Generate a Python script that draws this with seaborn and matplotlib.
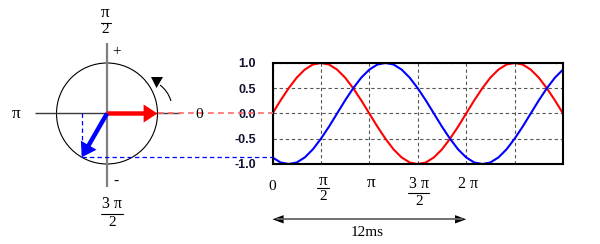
import matplotlib
matplotlib.use("Agg")
import matplotlib.pyplot as plt
from matplotlib.patches import Circle, FancyArrowPatch, Polygon, PathPatch, ArrowStyle
from matplotlib.path import Path
import numpy as np
import pandas as pd
import seaborn as sns

# ---------------- data ----------------
angle_deg = [0, 15, 30, 45, 60, 75, 90, 105, 120, 135, 150, 165, 180,
             195, 210, 225, 240, 255, 270, 285, 300, 315, 330, 345, 360,
             375, 390, 405, 420, 435, 450, 465, 480, 495, 510, 525, 540]
red_vals = [0.0, 0.26, 0.5, 0.71, 0.87, 0.97, 1.0, 0.97, 0.87, 0.71, 0.5, 0.26, 0.0,
            -0.26, -0.5, -0.71, -0.87, -0.97, -1.0, -0.97, -0.87, -0.71, -0.5, -0.26, 0.0,
            0.26, 0.5, 0.71, 0.87, 0.97, 1.0, 0.97, 0.87, 0.71, 0.5, 0.26, 0.0]
blue_vals = [-0.87, -0.97, -1.0, -0.97, -0.87, -0.71, -0.5, -0.26, 0.0, 0.26, 0.5, 0.71, 0.87,
             0.97, 1.0, 0.97, 0.87, 0.71, 0.5, 0.26, 0.0, -0.26, -0.5, -0.71, -0.87,
             -0.97, -1.0, -0.97, -0.87, -0.71, -0.5, -0.26, 0.0, 0.26, 0.5, 0.71, 0.87]
xtick_deg = [0, 90, 180, 270, 360, 450, 540]
ytick_vals = [-1.0, -0.5, 0.0, 0.5, 1.0]
ytick_labels = ["-1.0", "-0.5", "0.0", "0.5", "1.0"]
phasor_deg = [0, -120]          # red, blue phasor angles
phasor_colors = ["#ff0000", "#0000ff"]
span_label = "12ms"
span_deg = [0, 360]

df = pd.DataFrame({"angle": angle_deg, "red": red_vals, "blue": blue_vals})

sns.set_style("white")
plt.rcParams["font.family"] = ["Liberation Serif", "DejaVu Serif"]

fig = plt.figure(figsize=(6.0, 2.44), dpi=100)
ax = fig.add_axes([272.5 / 600, 1 - 164 / 244, 290.5 / 600, 101 / 244])

sns.lineplot(data=df, x="angle", y="red", color="#ff0000", lw=1.5, ax=ax)
sns.lineplot(data=df, x="angle", y="blue", color="#0000ff", lw=1.5, ax=ax)

ax.set_xlim(0, 540)
ax.set_ylim(-1, 1)
ax.set_xlabel("")
ax.set_ylabel("")
ax.set_xticks(xtick_deg)
ax.set_xticklabels([])
ax.set_yticks(ytick_vals)
ax.set_yticklabels(ytick_labels, fontweight="bold", fontsize=9,
                   family="Liberation Sans", color="#141432")
ax.tick_params(axis="x", direction="out", length=4.5, width=1.5, color="black")
ax.tick_params(axis="y", length=0, pad=12)
ax.grid(True, color="#555555", linestyle=(0, (3, 2.5)), linewidth=0.8)
ax.set_axisbelow(True)
for s in ax.spines.values():
    s.set_visible(True)
    s.set_color("black")
    s.set_linewidth(1.5)

# ---------------- overlay in pixel coordinates ----------------
ov = fig.add_axes([0, 0, 1, 1])
ov.set_xlim(0, 600)
ov.set_ylim(244, 0)
ov.axis("off")


def to_ov(x, y):
    d = ax.transData.transform((x, y))
    return ov.transData.inverted().transform(d)


x_left, y_zero = to_ov(0, 0)
_, y_one = to_ov(0, 1)
R = y_zero - y_one
cx, cy = 107.0, y_zero

# phasor axes
ov.plot([cx, cx], [43, 187], color="#7f7f7f", lw=1.6, solid_capstyle="butt")
ov.plot([35, 180], [cy, cy], color="#3a3a3a", lw=1.0, solid_capstyle="butt")
ov.add_patch(Circle((cx, cy), R, fill=False, ec="black", lw=0.8))

# projection lines
red_tip = (cx + R * np.cos(np.radians(phasor_deg[0])), cy - R * np.sin(np.radians(phasor_deg[0])))
blue_tip = (cx + R * np.cos(np.radians(phasor_deg[1])), cy - R * np.sin(np.radians(phasor_deg[1])))
_, y_blue0 = to_ov(angle_deg[0], blue_vals[0])
_, y_red0 = to_ov(angle_deg[0], red_vals[0])
ov.plot([red_tip[0], x_left], [y_red0, y_red0], color="#ff6a6a", lw=1.2,
        linestyle=(0, (3.5, 2.5)))
ov.plot([blue_tip[0], blue_tip[0]], [cy, blue_tip[1]], color="#0000ff", lw=0.9,
        linestyle=(0, (3.5, 2.5)))
ov.plot([blue_tip[0], x_left], [y_blue0, y_blue0], color="#0000ff", lw=0.9,
        linestyle=(0, (3.5, 2.5)))

# phasor arrows
for tip, col in zip([red_tip, blue_tip], phasor_colors):
    st = ArrowStyle.Simple(head_length=10, head_width=13, tail_width=3.2)
    ov.add_patch(FancyArrowPatch((cx, cy), tip, arrowstyle=st, mutation_scale=1,
                                 color=col, lw=0, shrinkA=0, shrinkB=0, zorder=5))

# rotation direction
arc = Path([(171, 101), (168, 91), (160, 85)], [Path.MOVETO, Path.CURVE3, Path.CURVE3])
ov.add_patch(PathPatch(arc, fill=False, ec="black", lw=0.8))
ov.add_patch(Polygon([(151, 77), (163, 77), (156.5, 88)], closed=True, fc="black", ec="none"))

serif = dict(family="Liberation Serif", ha="center", va="center", color="black")
FS = 11
PS = 12.5


def frac(x, y_num, y_bar, y_den, num, den, half, nfs):
    ov.text(x, y_num, num, fontsize=nfs, **serif)
    ov.plot([x - half, x + half], [y_bar, y_bar], color="black", lw=0.8)
    ov.text(x, y_den, den, fontsize=FS, **serif)


ov.text(16, 114, "π", fontsize=PS, **serif)
ov.text(199, 115, "0", fontsize=FS, **serif)
ov.text(117, 51.5, "+", fontsize=11, **serif)
ov.text(116, 181, "-", fontsize=11, **serif)
frac(105.5, 13, 23.3, 29.5, "π", "2", 5, PS)
frac(112, 204.5, 213.5, 223, "3 π", "2", 11, FS + 0.5)

# plot x-tick labels
px = [to_ov(d, 0)[0] for d in xtick_deg]
ov.text(px[0], 186, "0", fontsize=FS, **serif)
frac(px[1] + 2, 181, 187.5, 197, "π", "2", 6, PS)
ov.text(px[2] + 2, 183, "π", fontsize=PS, **serif)
frac(px[3] + 1, 183.5, 193, 201.5, "3 π", "2", 10.5, FS + 0.5)
ov.text(px[4] + 2, 183.5, "2 π", fontsize=FS + 0.5, **serif)

# span arrow
xa = to_ov(span_deg[0], 0)[0]
xb = to_ov(span_deg[1], 0)[0]
ya = 219.3
ov.plot([xa + 4, xb - 4], [ya, ya], color="#666666", lw=1.3)
hs = ArrowStyle.Simple(head_length=8, head_width=6, tail_width=0.1)
ov.add_patch(FancyArrowPatch((xa + 10, ya), (xa, ya), arrowstyle=hs, mutation_scale=1,
                             color="black", lw=0, shrinkA=0, shrinkB=0))
ov.add_patch(FancyArrowPatch((xb - 10, ya), (xb, ya), arrowstyle=hs, mutation_scale=1,
                             color="black", lw=0, shrinkA=0, shrinkB=0))
ov.text((xa + xb) / 2 - 2, 233, span_label, fontsize=FS, **serif)

fig.savefig("out.png", dpi=100)
